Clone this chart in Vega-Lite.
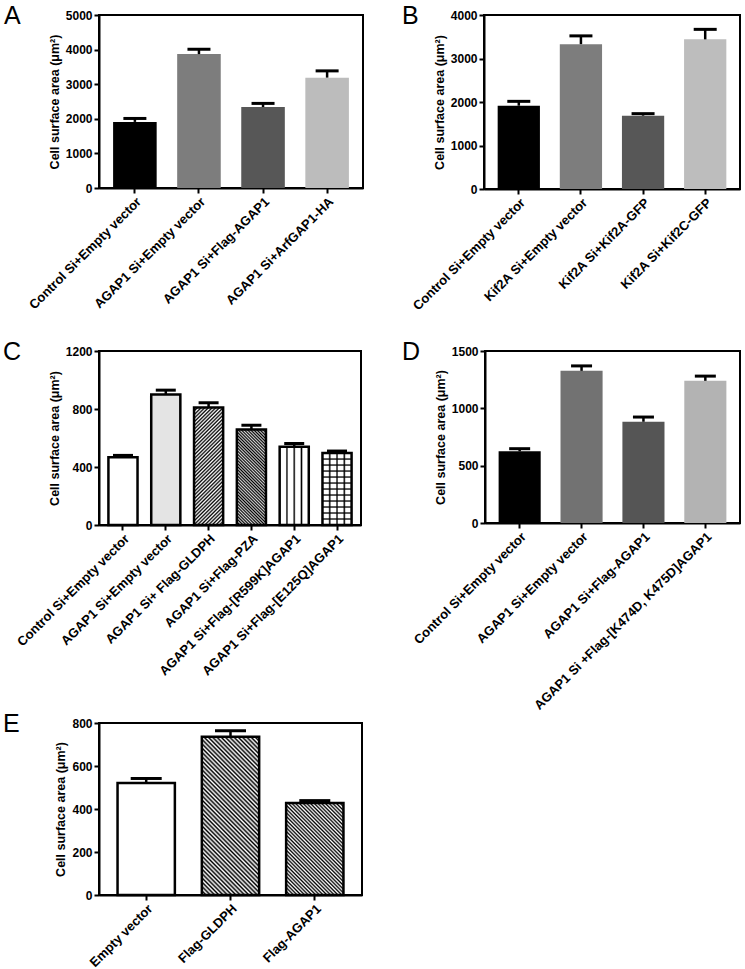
{
"$schema": "https://vega.github.io/schema/vega-lite/v6.json",
"background": "white",
"padding": {"left": 2, "top": 3, "right": 5, "bottom": 0},
"columns": 2,
"align": "none",
"spacing": {"row": -3, "column": 37},
"resolve": {"scale": {"fill": "independent"}},
"datasets": {
 "A": [
  {"cond": "Control Si+Empty vector", "value": 1910, "hi": 2010},
  {"cond": "AGAP1 Si+Empty vector", "value": 3870, "hi": 4010},
  {"cond": "AGAP1 Si+Flag-AGAP1", "value": 2340, "hi": 2445},
  {"cond": "AGAP1 Si+ArfGAP1-HA", "value": 3190, "hi": 3385}
 ],
 "B": [
  {"cond": "Control Si+Empty vector", "value": 1915, "hi": 2015},
  {"cond": "Kif2A Si+Empty vector", "value": 3330, "hi": 3520},
  {"cond": "Kif2A Si+Kif2A-GFP", "value": 1686, "hi": 1732},
  {"cond": "Kif2A Si+Kif2C-GFP", "value": 3440, "hi": 3670}
 ],
 "C": [
  {"cond": "Control Si+Empty vector", "value": 468, "hi": 480},
  {"cond": "AGAP1 Si+Empty vector", "value": 900, "hi": 930},
  {"cond": "AGAP1 Si+ Flag-GLDPH", "value": 811, "hi": 843},
  {"cond": "AGAP1 Si+Flag-PZA", "value": 658, "hi": 688},
  {"cond": "AGAP1 Si+Flag-[R599K]AGAP1", "value": 539, "hi": 562},
  {"cond": "AGAP1 Si+Flag-[E125Q]AGAP1", "value": 496, "hi": 510}
 ],
 "D": [
  {"cond": "Control Si+Empty vector", "value": 625, "hi": 648},
  {"cond": "AGAP1 Si+Empty vector", "value": 1327, "hi": 1370},
  {"cond": "AGAP1 Si+Flag-AGAP1", "value": 883, "hi": 924},
  {"cond": "AGAP1 Si +Flag-[K474D, K475D]AGAP1", "value": 1240, "hi": 1281}
 ],
 "E": [
  {"cond": "Empty vector", "value": 521, "hi": 542},
  {"cond": "Flag-GLDPH", "value": 736, "hi": 764},
  {"cond": "Flag-AGAP1", "value": 428, "hi": 439}
 ]
},
"concat": [
 {
  "width": 264, "height": 173,
  "title": {"text": "A", "dx": -95},
  "data": {"name": "A"},
  "encoding": {
   "x": {"field": "cond", "type": "nominal", "sort": null, "scale": {"paddingInner": 0.32, "paddingOuter": 0.22}, "axis": {"title": " ", "titlePadding": 15}},
   "y": {"field": "value", "type": "quantitative", "title": "Cell surface area (μm²)", "scale": {"domain": [0, 5000], "nice": false}, "axis": {"values": [0, 1000, 2000, 3000, 4000, 5000], "format": "d"}}
  },
  "layer": [
   {"mark": {"type": "bar"}, "encoding": {"fill": {"field": "cond", "type": "nominal", "legend": null, "scale": {"domain": ["Control Si+Empty vector", "AGAP1 Si+Empty vector", "AGAP1 Si+Flag-AGAP1", "AGAP1 Si+ArfGAP1-HA"], "range": ["#000000", "#7d7d7d", "#575757", "#bcbcbc"]}}}},
   {"mark": {"type": "rule", "strokeWidth": 2.5, "color": "#000"}, "encoding": {"y2": {"field": "hi"}}},
   {"mark": {"type": "tick", "size": 23, "thickness": 3, "color": "#000", "opacity": 1}, "encoding": {"y": {"field": "hi", "type": "quantitative", "title": "Cell surface area (μm²)", "scale": {"domain": [0, 5000], "nice": false}}}}
  ]
 },
 {
  "width": 256, "height": 174,
  "title": {"text": "B", "dx": -82},
  "data": {"name": "B"},
  "encoding": {
   "x": {"field": "cond", "type": "nominal", "sort": null, "scale": {"paddingInner": 0.32, "paddingOuter": 0.22}, "axis": {"title": " ", "titlePadding": 15}},
   "y": {"field": "value", "type": "quantitative", "title": "Cell surface area (μm²)", "scale": {"domain": [0, 4000], "nice": false}, "axis": {"values": [0, 1000, 2000, 3000, 4000], "format": "d"}}
  },
  "layer": [
   {"mark": {"type": "bar"}, "encoding": {"fill": {"field": "cond", "type": "nominal", "legend": null, "scale": {"domain": ["Control Si+Empty vector", "Kif2A Si+Empty vector", "Kif2A Si+Kif2A-GFP", "Kif2A Si+Kif2C-GFP"], "range": ["#000000", "#7d7d7d", "#575757", "#bdbdbd"]}}}},
   {"mark": {"type": "rule", "strokeWidth": 2.5, "color": "#000"}, "encoding": {"y2": {"field": "hi"}}},
   {"mark": {"type": "tick", "size": 23, "thickness": 3, "color": "#000", "opacity": 1}, "encoding": {"y": {"field": "hi", "type": "quantitative", "title": "Cell surface area (μm²)", "scale": {"domain": [0, 4000], "nice": false}}}}
  ]
 },
 {
  "width": 262, "height": 174,
  "title": {"text": "C", "dx": -96},
  "data": {"name": "C"},
  "encoding": {
   "x": {"field": "cond", "type": "nominal", "sort": null, "scale": {"domain": ["Control Si+Empty vector", "AGAP1 Si+Empty vector", "AGAP1 Si+ Flag-GLDPH", "AGAP1 Si+Flag-PZA", "AGAP1 Si+Flag-[R599K]AGAP1", "AGAP1 Si+Flag-[E125Q]AGAP1"], "paddingInner": 0.32, "paddingOuter": 0.22}, "axis": {"title": null}},
   "y": {"field": "value", "type": "quantitative", "title": "Cell surface area (μm²)", "scale": {"domain": [0, 1200], "nice": false}, "axis": {"values": [0, 400, 800, 1200], "format": "d"}}
  },
  "layer": [
   {"mark": {"type": "bar", "fill": "#ffffff"}},
   {"transform": [{"filter": {"field": "cond", "equal": "AGAP1 Si+Empty vector"}}], "mark": {"type": "bar", "fill": "#e4e4e4"}},
   {"transform": [{"filter": {"field": "cond", "equal": "AGAP1 Si+ Flag-GLDPH"}}], "mark": {"type": "bar", "fill": {"gradient": "linear", "x1": 0, "y1": 0, "x2": 0.29, "y2": 1.175, "stops": [
    {"offset":0,"color":"#000"},{"offset":0.0125,"color":"#fff"},{"offset":0.025,"color":"#000"},{"offset":0.0375,"color":"#fff"},{"offset":0.05,"color":"#000"},{"offset":0.0625,"color":"#fff"},{"offset":0.075,"color":"#000"},{"offset":0.0875,"color":"#fff"},{"offset":0.1,"color":"#000"},{"offset":0.1125,"color":"#fff"},{"offset":0.125,"color":"#000"},{"offset":0.1375,"color":"#fff"},{"offset":0.15,"color":"#000"},{"offset":0.1625,"color":"#fff"},{"offset":0.175,"color":"#000"},{"offset":0.1875,"color":"#fff"},{"offset":0.2,"color":"#000"},{"offset":0.2125,"color":"#fff"},{"offset":0.225,"color":"#000"},{"offset":0.2375,"color":"#fff"},{"offset":0.25,"color":"#000"},{"offset":0.2625,"color":"#fff"},{"offset":0.275,"color":"#000"},{"offset":0.2875,"color":"#fff"},{"offset":0.3,"color":"#000"},{"offset":0.3125,"color":"#fff"},{"offset":0.325,"color":"#000"},{"offset":0.3375,"color":"#fff"},{"offset":0.35,"color":"#000"},{"offset":0.3625,"color":"#fff"},{"offset":0.375,"color":"#000"},{"offset":0.3875,"color":"#fff"},{"offset":0.4,"color":"#000"},{"offset":0.4125,"color":"#fff"},{"offset":0.425,"color":"#000"},{"offset":0.4375,"color":"#fff"},{"offset":0.45,"color":"#000"},{"offset":0.4625,"color":"#fff"},{"offset":0.475,"color":"#000"},{"offset":0.4875,"color":"#fff"},{"offset":0.5,"color":"#000"},{"offset":0.5125,"color":"#fff"},{"offset":0.525,"color":"#000"},{"offset":0.5375,"color":"#fff"},{"offset":0.55,"color":"#000"},{"offset":0.5625,"color":"#fff"},{"offset":0.575,"color":"#000"},{"offset":0.5875,"color":"#fff"},{"offset":0.6,"color":"#000"},{"offset":0.6125,"color":"#fff"},{"offset":0.625,"color":"#000"},{"offset":0.6375,"color":"#fff"},{"offset":0.65,"color":"#000"},{"offset":0.6625,"color":"#fff"},{"offset":0.675,"color":"#000"},{"offset":0.6875,"color":"#fff"},{"offset":0.7,"color":"#000"},{"offset":0.7125,"color":"#fff"},{"offset":0.725,"color":"#000"},{"offset":0.7375,"color":"#fff"},{"offset":0.75,"color":"#000"},{"offset":0.7625,"color":"#fff"},{"offset":0.775,"color":"#000"},{"offset":0.7875,"color":"#fff"},{"offset":0.8,"color":"#000"},{"offset":0.8125,"color":"#fff"},{"offset":0.825,"color":"#000"},{"offset":0.8375,"color":"#fff"},{"offset":0.85,"color":"#000"},{"offset":0.8625,"color":"#fff"},{"offset":0.875,"color":"#000"},{"offset":0.8875,"color":"#fff"},{"offset":0.9,"color":"#000"},{"offset":0.9125,"color":"#fff"},{"offset":0.925,"color":"#000"},{"offset":0.9375,"color":"#fff"},{"offset":0.95,"color":"#000"},{"offset":0.9625,"color":"#fff"},{"offset":0.975,"color":"#000"},{"offset":0.9875,"color":"#fff"},{"offset":1,"color":"#000"}
   ]}}},
   {"transform": [{"filter": {"field": "cond", "equal": "AGAP1 Si+Flag-PZA"}}], "mark": {"type": "bar", "fill": {"gradient": "linear", "x1": 0, "y1": 1, "x2": 0.363, "y2": -0.194, "stops": [
    {"offset":0,"color":"#000"},{"offset":0.0125,"color":"#d0d0d0"},{"offset":0.025,"color":"#000"},{"offset":0.0375,"color":"#d0d0d0"},{"offset":0.05,"color":"#000"},{"offset":0.0625,"color":"#d0d0d0"},{"offset":0.075,"color":"#000"},{"offset":0.0875,"color":"#d0d0d0"},{"offset":0.1,"color":"#000"},{"offset":0.1125,"color":"#d0d0d0"},{"offset":0.125,"color":"#000"},{"offset":0.1375,"color":"#d0d0d0"},{"offset":0.15,"color":"#000"},{"offset":0.1625,"color":"#d0d0d0"},{"offset":0.175,"color":"#000"},{"offset":0.1875,"color":"#d0d0d0"},{"offset":0.2,"color":"#000"},{"offset":0.2125,"color":"#d0d0d0"},{"offset":0.225,"color":"#000"},{"offset":0.2375,"color":"#d0d0d0"},{"offset":0.25,"color":"#000"},{"offset":0.2625,"color":"#d0d0d0"},{"offset":0.275,"color":"#000"},{"offset":0.2875,"color":"#d0d0d0"},{"offset":0.3,"color":"#000"},{"offset":0.3125,"color":"#d0d0d0"},{"offset":0.325,"color":"#000"},{"offset":0.3375,"color":"#d0d0d0"},{"offset":0.35,"color":"#000"},{"offset":0.3625,"color":"#d0d0d0"},{"offset":0.375,"color":"#000"},{"offset":0.3875,"color":"#d0d0d0"},{"offset":0.4,"color":"#000"},{"offset":0.4125,"color":"#d0d0d0"},{"offset":0.425,"color":"#000"},{"offset":0.4375,"color":"#d0d0d0"},{"offset":0.45,"color":"#000"},{"offset":0.4625,"color":"#d0d0d0"},{"offset":0.475,"color":"#000"},{"offset":0.4875,"color":"#d0d0d0"},{"offset":0.5,"color":"#000"},{"offset":0.5125,"color":"#d0d0d0"},{"offset":0.525,"color":"#000"},{"offset":0.5375,"color":"#d0d0d0"},{"offset":0.55,"color":"#000"},{"offset":0.5625,"color":"#d0d0d0"},{"offset":0.575,"color":"#000"},{"offset":0.5875,"color":"#d0d0d0"},{"offset":0.6,"color":"#000"},{"offset":0.6125,"color":"#d0d0d0"},{"offset":0.625,"color":"#000"},{"offset":0.6375,"color":"#d0d0d0"},{"offset":0.65,"color":"#000"},{"offset":0.6625,"color":"#d0d0d0"},{"offset":0.675,"color":"#000"},{"offset":0.6875,"color":"#d0d0d0"},{"offset":0.7,"color":"#000"},{"offset":0.7125,"color":"#d0d0d0"},{"offset":0.725,"color":"#000"},{"offset":0.7375,"color":"#d0d0d0"},{"offset":0.75,"color":"#000"},{"offset":0.7625,"color":"#d0d0d0"},{"offset":0.775,"color":"#000"},{"offset":0.7875,"color":"#d0d0d0"},{"offset":0.8,"color":"#000"},{"offset":0.8125,"color":"#d0d0d0"},{"offset":0.825,"color":"#000"},{"offset":0.8375,"color":"#d0d0d0"},{"offset":0.85,"color":"#000"},{"offset":0.8625,"color":"#d0d0d0"},{"offset":0.875,"color":"#000"},{"offset":0.8875,"color":"#d0d0d0"},{"offset":0.9,"color":"#000"},{"offset":0.9125,"color":"#d0d0d0"},{"offset":0.925,"color":"#000"},{"offset":0.9375,"color":"#d0d0d0"},{"offset":0.95,"color":"#000"},{"offset":0.9625,"color":"#d0d0d0"},{"offset":0.975,"color":"#000"},{"offset":0.9875,"color":"#d0d0d0"},{"offset":1,"color":"#000"}
   ]}}},
   {"transform": [{"filter": {"field": "cond", "oneOf": ["AGAP1 Si+Flag-[R599K]AGAP1", "AGAP1 Si+Flag-[E125Q]AGAP1"]}}], "mark": {"type": "bar", "fill": {"gradient": "linear", "x1": 0, "y1": 0, "x2": 1, "y2": 0, "stops": [
    {"offset":0,"color":"#fff"},{"offset":0.2,"color":"#fff"},{"offset":0.25,"color":"#000"},{"offset":0.3,"color":"#fff"},{"offset":0.45,"color":"#fff"},{"offset":0.5,"color":"#000"},{"offset":0.55,"color":"#fff"},{"offset":0.7,"color":"#fff"},{"offset":0.75,"color":"#000"},{"offset":0.8,"color":"#fff"},{"offset":1,"color":"#fff"}
   ]}}},
   {"transform": [{"filter": {"field": "cond", "equal": "AGAP1 Si+Flag-[E125Q]AGAP1"}}], "mark": {"type": "bar", "fill": {"gradient": "linear", "x1": 0, "y1": 0, "x2": 0, "y2": 1, "stops": [
    {"offset":0,"color":"rgba(0,0,0,0)"},
    {"offset":0.0633,"color":"rgba(0,0,0,0)"},{"offset":0.0833,"color":"#000"},{"offset":0.1033,"color":"rgba(0,0,0,0)"},
    {"offset":0.1467,"color":"rgba(0,0,0,0)"},{"offset":0.1667,"color":"#000"},{"offset":0.1867,"color":"rgba(0,0,0,0)"},
    {"offset":0.23,"color":"rgba(0,0,0,0)"},{"offset":0.25,"color":"#000"},{"offset":0.27,"color":"rgba(0,0,0,0)"},
    {"offset":0.3133,"color":"rgba(0,0,0,0)"},{"offset":0.3333,"color":"#000"},{"offset":0.3533,"color":"rgba(0,0,0,0)"},
    {"offset":0.3967,"color":"rgba(0,0,0,0)"},{"offset":0.4167,"color":"#000"},{"offset":0.4367,"color":"rgba(0,0,0,0)"},
    {"offset":0.48,"color":"rgba(0,0,0,0)"},{"offset":0.5,"color":"#000"},{"offset":0.52,"color":"rgba(0,0,0,0)"},
    {"offset":0.5633,"color":"rgba(0,0,0,0)"},{"offset":0.5833,"color":"#000"},{"offset":0.6033,"color":"rgba(0,0,0,0)"},
    {"offset":0.6467,"color":"rgba(0,0,0,0)"},{"offset":0.6667,"color":"#000"},{"offset":0.6867,"color":"rgba(0,0,0,0)"},
    {"offset":0.73,"color":"rgba(0,0,0,0)"},{"offset":0.75,"color":"#000"},{"offset":0.77,"color":"rgba(0,0,0,0)"},
    {"offset":0.8133,"color":"rgba(0,0,0,0)"},{"offset":0.8333,"color":"#000"},{"offset":0.8533,"color":"rgba(0,0,0,0)"},
    {"offset":0.8967,"color":"rgba(0,0,0,0)"},{"offset":0.9167,"color":"#000"},{"offset":0.9367,"color":"rgba(0,0,0,0)"},
    {"offset":1,"color":"rgba(0,0,0,0)"}
   ]}}},
   {"mark": {"type": "bar", "fill": "transparent", "stroke": "#000", "strokeWidth": 2.5}},
   {"mark": {"type": "rule", "strokeWidth": 2.5, "color": "#000"}, "encoding": {"y2": {"field": "hi"}}},
   {"mark": {"type": "tick", "size": 20, "thickness": 3, "color": "#000", "opacity": 1}, "encoding": {"y": {"field": "hi", "type": "quantitative", "title": "Cell surface area (μm²)", "scale": {"domain": [0, 1200], "nice": false}}}}
  ]
 },
 {
  "width": 255, "height": 172,
  "title": {"text": "D", "dx": -83},
  "data": {"name": "D"},
  "encoding": {
   "x": {"field": "cond", "type": "nominal", "sort": null, "scale": {"paddingInner": 0.32, "paddingOuter": 0.22}, "axis": {"title": null}},
   "y": {"field": "value", "type": "quantitative", "title": "Cell surface area (μm²)", "scale": {"domain": [0, 1500], "nice": false}, "axis": {"values": [0, 500, 1000, 1500], "format": "d"}}
  },
  "layer": [
   {"mark": {"type": "bar"}, "encoding": {"fill": {"field": "cond", "type": "nominal", "legend": null, "scale": {"domain": ["Control Si+Empty vector", "AGAP1 Si+Empty vector", "AGAP1 Si+Flag-AGAP1", "AGAP1 Si +Flag-[K474D, K475D]AGAP1"], "range": ["#000000", "#727272", "#555555", "#b3b3b3"]}}}},
   {"mark": {"type": "rule", "strokeWidth": 2.5, "color": "#000"}, "encoding": {"y2": {"field": "hi"}}},
   {"mark": {"type": "tick", "size": 21, "thickness": 3, "color": "#000", "opacity": 1}, "encoding": {"y": {"field": "hi", "type": "quantitative", "title": "Cell surface area (μm²)", "scale": {"domain": [0, 1500], "nice": false}}}}
  ]
 },
 {
  "width": 263, "height": 172,
  "title": {"text": "E", "dx": -96},
  "data": {"name": "E"},
  "encoding": {
   "x": {"field": "cond", "type": "nominal", "sort": null, "scale": {"domain": ["Empty vector", "Flag-GLDPH", "Flag-AGAP1"], "paddingInner": 0.32, "paddingOuter": 0.22}, "axis": {"title": null}},
   "y": {"field": "value", "type": "quantitative", "title": "Cell surface area (μm²)", "scale": {"domain": [0, 800], "nice": false}, "axis": {"values": [0, 200, 400, 600, 800], "format": "d"}}
  },
  "layer": [
   {"mark": {"type": "bar", "fill": "#ffffff"}},
   {"transform": [{"filter": {"field": "cond", "equal": "Flag-GLDPH"}}], "mark": {"type": "bar", "fill": {"gradient": "linear", "x1": 0, "y1": 1, "x2": 0.442, "y2": -0.205, "stops": [
    {"offset":0,"color":"#000"},{"offset":0.01,"color":"#fff"},{"offset":0.02,"color":"#000"},{"offset":0.03,"color":"#fff"},{"offset":0.04,"color":"#000"},{"offset":0.05,"color":"#fff"},{"offset":0.06,"color":"#000"},{"offset":0.07,"color":"#fff"},{"offset":0.08,"color":"#000"},{"offset":0.09,"color":"#fff"},{"offset":0.1,"color":"#000"},{"offset":0.11,"color":"#fff"},{"offset":0.12,"color":"#000"},{"offset":0.13,"color":"#fff"},{"offset":0.14,"color":"#000"},{"offset":0.15,"color":"#fff"},{"offset":0.16,"color":"#000"},{"offset":0.17,"color":"#fff"},{"offset":0.18,"color":"#000"},{"offset":0.19,"color":"#fff"},{"offset":0.2,"color":"#000"},{"offset":0.21,"color":"#fff"},{"offset":0.22,"color":"#000"},{"offset":0.23,"color":"#fff"},{"offset":0.24,"color":"#000"},{"offset":0.25,"color":"#fff"},{"offset":0.26,"color":"#000"},{"offset":0.27,"color":"#fff"},{"offset":0.28,"color":"#000"},{"offset":0.29,"color":"#fff"},{"offset":0.3,"color":"#000"},{"offset":0.31,"color":"#fff"},{"offset":0.32,"color":"#000"},{"offset":0.33,"color":"#fff"},{"offset":0.34,"color":"#000"},{"offset":0.35,"color":"#fff"},{"offset":0.36,"color":"#000"},{"offset":0.37,"color":"#fff"},{"offset":0.38,"color":"#000"},{"offset":0.39,"color":"#fff"},{"offset":0.4,"color":"#000"},{"offset":0.41,"color":"#fff"},{"offset":0.42,"color":"#000"},{"offset":0.43,"color":"#fff"},{"offset":0.44,"color":"#000"},{"offset":0.45,"color":"#fff"},{"offset":0.46,"color":"#000"},{"offset":0.47,"color":"#fff"},{"offset":0.48,"color":"#000"},{"offset":0.49,"color":"#fff"},{"offset":0.5,"color":"#000"},{"offset":0.51,"color":"#fff"},{"offset":0.52,"color":"#000"},{"offset":0.53,"color":"#fff"},{"offset":0.54,"color":"#000"},{"offset":0.55,"color":"#fff"},{"offset":0.56,"color":"#000"},{"offset":0.57,"color":"#fff"},{"offset":0.58,"color":"#000"},{"offset":0.59,"color":"#fff"},{"offset":0.6,"color":"#000"},{"offset":0.61,"color":"#fff"},{"offset":0.62,"color":"#000"},{"offset":0.63,"color":"#fff"},{"offset":0.64,"color":"#000"},{"offset":0.65,"color":"#fff"},{"offset":0.66,"color":"#000"},{"offset":0.67,"color":"#fff"},{"offset":0.68,"color":"#000"},{"offset":0.69,"color":"#fff"},{"offset":0.7,"color":"#000"},{"offset":0.71,"color":"#fff"},{"offset":0.72,"color":"#000"},{"offset":0.73,"color":"#fff"},{"offset":0.74,"color":"#000"},{"offset":0.75,"color":"#fff"},{"offset":0.76,"color":"#000"},{"offset":0.77,"color":"#fff"},{"offset":0.78,"color":"#000"},{"offset":0.79,"color":"#fff"},{"offset":0.8,"color":"#000"},{"offset":0.81,"color":"#fff"},{"offset":0.82,"color":"#000"},{"offset":0.83,"color":"#fff"},{"offset":0.84,"color":"#000"},{"offset":0.85,"color":"#fff"},{"offset":0.86,"color":"#000"},{"offset":0.87,"color":"#fff"},{"offset":0.88,"color":"#000"},{"offset":0.89,"color":"#fff"},{"offset":0.9,"color":"#000"},{"offset":0.91,"color":"#fff"},{"offset":0.92,"color":"#000"},{"offset":0.93,"color":"#fff"},{"offset":0.94,"color":"#000"},{"offset":0.95,"color":"#fff"},{"offset":0.96,"color":"#000"},{"offset":0.97,"color":"#fff"},{"offset":0.98,"color":"#000"},{"offset":0.99,"color":"#fff"},{"offset":1,"color":"#000"}
   ]}}},
   {"transform": [{"filter": {"field": "cond", "equal": "Flag-AGAP1"}}], "mark": {"type": "bar", "fill": {"gradient": "linear", "x1": 0, "y1": 1, "x2": 0.735, "y2": -0.167, "stops": [
    {"offset":0,"color":"#000"},{"offset":0.0125,"color":"#fff"},{"offset":0.025,"color":"#000"},{"offset":0.0375,"color":"#fff"},{"offset":0.05,"color":"#000"},{"offset":0.0625,"color":"#fff"},{"offset":0.075,"color":"#000"},{"offset":0.0875,"color":"#fff"},{"offset":0.1,"color":"#000"},{"offset":0.1125,"color":"#fff"},{"offset":0.125,"color":"#000"},{"offset":0.1375,"color":"#fff"},{"offset":0.15,"color":"#000"},{"offset":0.1625,"color":"#fff"},{"offset":0.175,"color":"#000"},{"offset":0.1875,"color":"#fff"},{"offset":0.2,"color":"#000"},{"offset":0.2125,"color":"#fff"},{"offset":0.225,"color":"#000"},{"offset":0.2375,"color":"#fff"},{"offset":0.25,"color":"#000"},{"offset":0.2625,"color":"#fff"},{"offset":0.275,"color":"#000"},{"offset":0.2875,"color":"#fff"},{"offset":0.3,"color":"#000"},{"offset":0.3125,"color":"#fff"},{"offset":0.325,"color":"#000"},{"offset":0.3375,"color":"#fff"},{"offset":0.35,"color":"#000"},{"offset":0.3625,"color":"#fff"},{"offset":0.375,"color":"#000"},{"offset":0.3875,"color":"#fff"},{"offset":0.4,"color":"#000"},{"offset":0.4125,"color":"#fff"},{"offset":0.425,"color":"#000"},{"offset":0.4375,"color":"#fff"},{"offset":0.45,"color":"#000"},{"offset":0.4625,"color":"#fff"},{"offset":0.475,"color":"#000"},{"offset":0.4875,"color":"#fff"},{"offset":0.5,"color":"#000"},{"offset":0.5125,"color":"#fff"},{"offset":0.525,"color":"#000"},{"offset":0.5375,"color":"#fff"},{"offset":0.55,"color":"#000"},{"offset":0.5625,"color":"#fff"},{"offset":0.575,"color":"#000"},{"offset":0.5875,"color":"#fff"},{"offset":0.6,"color":"#000"},{"offset":0.6125,"color":"#fff"},{"offset":0.625,"color":"#000"},{"offset":0.6375,"color":"#fff"},{"offset":0.65,"color":"#000"},{"offset":0.6625,"color":"#fff"},{"offset":0.675,"color":"#000"},{"offset":0.6875,"color":"#fff"},{"offset":0.7,"color":"#000"},{"offset":0.7125,"color":"#fff"},{"offset":0.725,"color":"#000"},{"offset":0.7375,"color":"#fff"},{"offset":0.75,"color":"#000"},{"offset":0.7625,"color":"#fff"},{"offset":0.775,"color":"#000"},{"offset":0.7875,"color":"#fff"},{"offset":0.8,"color":"#000"},{"offset":0.8125,"color":"#fff"},{"offset":0.825,"color":"#000"},{"offset":0.8375,"color":"#fff"},{"offset":0.85,"color":"#000"},{"offset":0.8625,"color":"#fff"},{"offset":0.875,"color":"#000"},{"offset":0.8875,"color":"#fff"},{"offset":0.9,"color":"#000"},{"offset":0.9125,"color":"#fff"},{"offset":0.925,"color":"#000"},{"offset":0.9375,"color":"#fff"},{"offset":0.95,"color":"#000"},{"offset":0.9625,"color":"#fff"},{"offset":0.975,"color":"#000"},{"offset":0.9875,"color":"#fff"},{"offset":1,"color":"#000"}
   ]}}},
   {"mark": {"type": "bar", "fill": "transparent", "stroke": "#000", "strokeWidth": 2.5}},
   {"mark": {"type": "rule", "strokeWidth": 2.5, "color": "#000"}, "encoding": {"y2": {"field": "hi"}}},
   {"mark": {"type": "tick", "size": 31, "thickness": 3, "color": "#000", "opacity": 1}, "encoding": {"y": {"field": "hi", "type": "quantitative", "title": "Cell surface area (μm²)", "scale": {"domain": [0, 800], "nice": false}}}}
  ]
 }
],
"config": {
 "view": {"stroke": "#000", "strokeWidth": 2},
 "axis": {"domainColor": "#000", "domainWidth": 2, "tickColor": "#000", "tickWidth": 2, "tickSize": 5, "labelFont": "Liberation Sans", "labelFontWeight": "bold", "labelFontSize": 12, "labelColor": "#000", "titleFont": "Liberation Sans", "titleFontWeight": "bold", "titleFontSize": 12.5, "titleColor": "#000", "grid": false, "labelPadding": 2},
 "axisX": {"labelAngle": -45, "labelLimit": 400, "labelFontSize": 13},
 "axisY": {"titlePadding": 4},
 "title": {"font": "Liberation Sans", "fontSize": 25, "fontWeight": "normal", "anchor": "start", "frame": "group", "color": "#000", "baseline": "top", "offset": -20}
}
}
